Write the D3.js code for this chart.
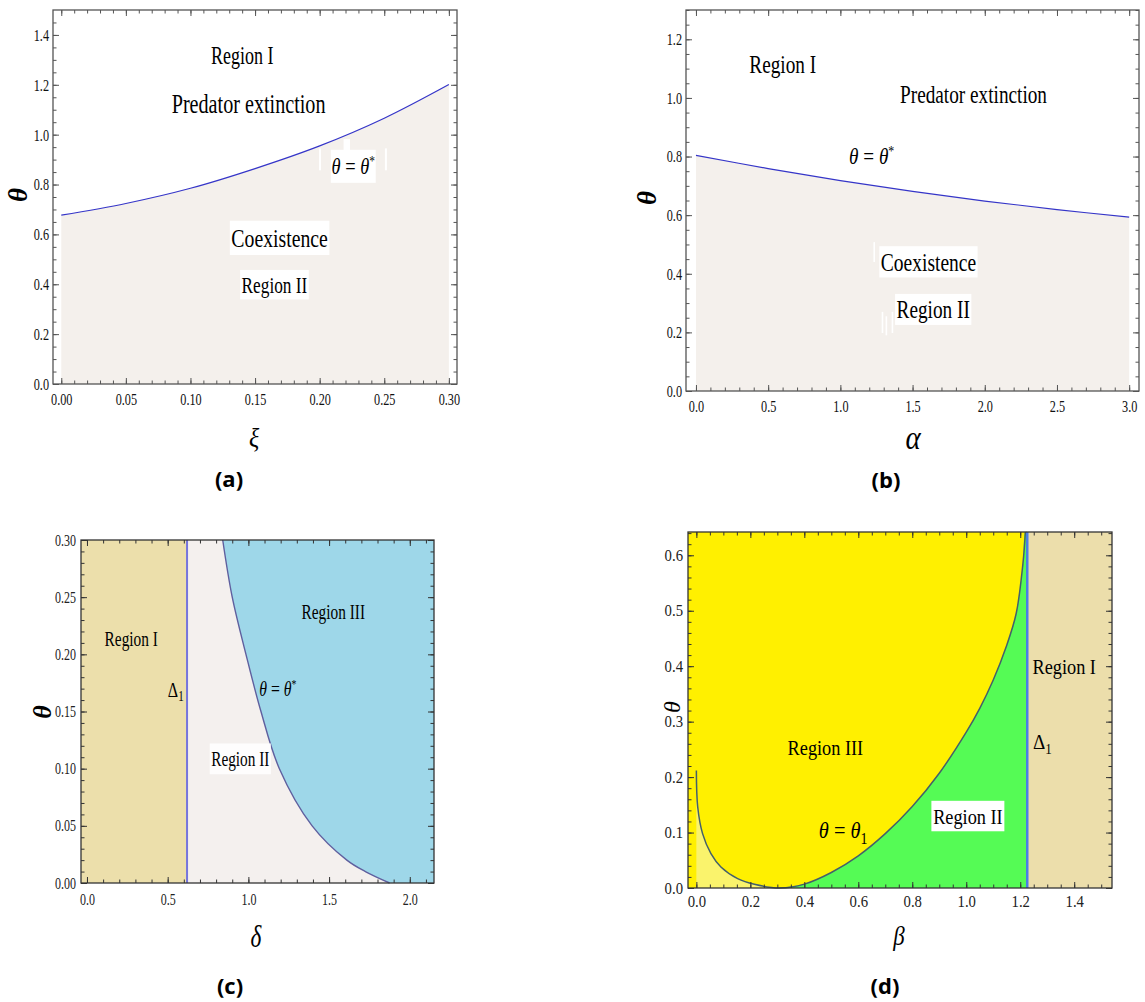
<!DOCTYPE html>
<html><head><meta charset="utf-8">
<script src="https://cdn.jsdelivr.net/npm/d3@7"></script>
<style>body{margin:0;background:#fff} svg{display:block}</style>
</head><body>
<svg id="chart" width="1145" height="1002"></svg>
<script>
// ---------------- DATA ----------------
// (a) theta* as a function of xi
const xiValues   = [0, 0.05, 0.10, 0.15, 0.20, 0.25, 0.30];
const thetaStarA = [0.677, 0.724, 0.785, 0.864, 0.955, 1.066, 1.201];
// (b) theta* as a function of alpha
const alphaValues = [0, 0.5, 1.0, 1.5, 2.0, 2.5, 3.0];
const thetaStarB  = [0.804, 0.759, 0.718, 0.681, 0.648, 0.619, 0.593];
// (c) delta on the theta = theta* curve, for given theta
const thetaC     = [0.30, 0.25, 0.20, 0.15, 0.10, 0.05, 0.02, 0.01, 0.0];
const deltaStarC = [0.841, 0.900, 0.985, 1.078, 1.192, 1.395, 1.610, 1.725, 1.875];
const delta1C = 0.62;
// (d) theta_1 as a function of beta
const betaD   = [0, 0.005, 0.023, 0.054, 0.091, 0.153, 0.215, 0.31, 0.40, 0.50, 0.60, 0.70, 0.80, 0.90, 1.00, 1.05, 1.10, 1.148, 1.185, 1.21, 1.219];
const theta1D = [0.212, 0.146, 0.098, 0.062, 0.038, 0.017, 0.0067, 0.0, 0.007, 0.028, 0.058, 0.098, 0.147, 0.207, 0.281, 0.324, 0.375, 0.435, 0.495, 0.585, 0.642];
const beta1D = 1.226;
const betaMinD = 0.31;
// tick labels
const ticksAx = [0, 0.05, 0.10, 0.15, 0.20, 0.25, 0.30];
const ticksAy = [0, 0.2, 0.4, 0.6, 0.8, 1.0, 1.2, 1.4];
const ticksBx = [0, 0.5, 1.0, 1.5, 2.0, 2.5, 3.0];
const ticksBy = [0, 0.2, 0.4, 0.6, 0.8, 1.0, 1.2];
const ticksCx = [0, 0.5, 1.0, 1.5, 2.0];
const ticksCy = [0, 0.05, 0.10, 0.15, 0.20, 0.25, 0.30];
const ticksDx = [0, 0.2, 0.4, 0.6, 0.8, 1.0, 1.2, 1.4];
const ticksDy = [0, 0.1, 0.2, 0.3, 0.4, 0.5, 0.6];

// ---------------- DRAWING ----------------
const svg = d3.select("#chart");
const SERIF = "'Liberation Serif','Times New Roman',serif";
const SANS = "'Open Sans','Noto Sans',sans-serif";
const smooth = d3.curveCatmullRom.alpha(0.5);

function minorRange(lo, hi, step) {
  const n = Math.round((hi - lo) / step);
  return d3.range(n + 1).map(i => +(lo + i * step).toFixed(6));
}

function panel(cfg) {
  const x = d3.scaleLinear().domain(cfg.xDomain).range([cfg.left, cfg.right]);
  const y = d3.scaleLinear().domain(cfg.yDomain).range([cfg.bottom, cfg.top]);
  const g = svg.append("g");
  const under = g.append("g");
  const marks = g.append("g");
  const axes = g.append("g");
  const labels = g.append("g");
  return {x, y, g, under, marks, axes, labels, cfg};
}

function styleAxis(sel, cfg) {
  sel.select(".domain").remove();
  sel.selectAll("line").attr("stroke", cfg.frame).attr("stroke-width", 1);
  sel.attr("font-family", SERIF).attr("font-size", cfg.tickSize).attr("fill", null);
  sel.selectAll("text").attr("fill", cfg.tickColor);
}

function drawAxes(p) {
  const {x, y, cfg, axes} = p;
  const fx = d3.format(cfg.xFmt), fy = d3.format(cfg.yFmt);
  const M = 6, m = 3.5;
  const gb = axes.append("g").attr("transform", `translate(0,${cfg.bottom})`)
    .call(d3.axisBottom(x).tickValues(cfg.xMajor).tickSizeInner(-M).tickSizeOuter(0).tickPadding(cfg.xPad).tickFormat(fx));
  styleAxis(gb, cfg);
  gb.selectAll("text").attr("transform", `scale(${cfg.tickK},1)`);
  const gbm = axes.append("g").attr("transform", `translate(0,${cfg.bottom})`)
    .call(d3.axisBottom(x).tickValues(cfg.xMinor).tickSizeInner(-m).tickSizeOuter(0).tickFormat(""));
  styleAxis(gbm, cfg);
  const gt = axes.append("g").attr("transform", `translate(0,${cfg.top})`)
    .call(d3.axisTop(x).tickValues(cfg.xMajor).tickSizeInner(-M).tickSizeOuter(0).tickFormat(""));
  styleAxis(gt, cfg);
  const gtm = axes.append("g").attr("transform", `translate(0,${cfg.top})`)
    .call(d3.axisTop(x).tickValues(cfg.xMinor).tickSizeInner(-m).tickSizeOuter(0).tickFormat(""));
  styleAxis(gtm, cfg);
  const gl = axes.append("g").attr("transform", `translate(${cfg.left},0)`)
    .call(d3.axisLeft(y).tickValues(cfg.yMajor).tickSizeInner(-M).tickSizeOuter(0).tickPadding(cfg.yPad).tickFormat(fy));
  styleAxis(gl, cfg);
  gl.selectAll("text").attr("x", -cfg.yPad / cfg.tickK).attr("transform", `scale(${cfg.tickK},1)`);
  const glm = axes.append("g").attr("transform", `translate(${cfg.left},0)`)
    .call(d3.axisLeft(y).tickValues(cfg.yMinor).tickSizeInner(-m).tickSizeOuter(0).tickFormat(""));
  styleAxis(glm, cfg);
  const gr = axes.append("g").attr("transform", `translate(${cfg.right},0)`)
    .call(d3.axisRight(y).tickValues(cfg.yMajor).tickSizeInner(-M).tickSizeOuter(0).tickFormat(""));
  styleAxis(gr, cfg);
  const grm = axes.append("g").attr("transform", `translate(${cfg.right},0)`)
    .call(d3.axisRight(y).tickValues(cfg.yMinor).tickSizeInner(-m).tickSizeOuter(0).tickFormat(""));
  styleAxis(grm, cfg);
  axes.append("rect").attr("x", cfg.left).attr("y", cfg.top)
    .attr("width", cfg.right - cfg.left).attr("height", cfg.bottom - cfg.top)
    .attr("fill", "none").attr("stroke", cfg.frame).attr("stroke-width", 1.3);
}

function addText(parent, X, Y, parts, size, k, opts = {}) {
  const g = parent.append("g").attr("transform", `translate(${X},${Y}) scale(${k},1)` + (opts.rotate ? ` rotate(${opts.rotate})` : ""));
  const t = g.append("text").attr("text-anchor", "middle")
    .attr("font-family", opts.family || SERIF).attr("font-size", size).attr("fill", "#000");
  if (opts.weight) t.attr("font-weight", opts.weight);
  if (typeof parts === "string") parts = [{t: parts}];
  parts.forEach(p => {
    const s = t.append("tspan").text(p.t);
    if (p.i) s.attr("font-style", "italic");
    if (p.sup) s.attr("font-size", size * 0.62).attr("dy", -size * 0.36);
    if (p.sub) s.attr("font-size", size * 0.68).attr("dy", size * 0.22);
  });
  if (opts.box) {
    const bb = t.node().getBBox();
    const b = opts.box;
    g.insert("rect", "text").attr("x", bb.x - b[0]).attr("y", bb.y - b[1])
      .attr("width", bb.width + 2 * b[0]).attr("height", bb.height + b[1] + b[2])
      .attr("fill", "#fff").attr("opacity", b[3] == null ? 1 : b[3]);
  }
  return g;
}

const thetaEqStar = [{t: "θ", i: true}, {t: " = "}, {t: "θ", i: true}, {t: "*", sup: true}];
const thetaEq1 = [{t: "θ", i: true}, {t: " = "}, {t: "θ", i: true}, {t: "1", sub: true}];
const delta1Label = [{t: "Δ"}, {t: "1", sub: true}];

// ===== Panel (a) =====
{
  const p = panel({
    left: 53, right: 457, top: 10, bottom: 384,
    xDomain: [-0.0064, 0.3063], yDomain: [0, 1.5],
    xMajor: ticksAx, yMajor: ticksAy,
    xMinor: minorRange(0, 0.30, 0.01), yMinor: minorRange(0, 1.45, 0.05),
    xFmt: ".2f", yFmt: ".1f", xPad: 9, yPad: 4, tickK: 0.72, tickSize: 17,
    frame: "#555", tickColor: "#111"
  });
  const {x, y} = p;
  const pts = d3.zip(xiValues, thetaStarA);
  p.under.append("path").datum(pts).attr("fill", "#f4f0ec")
    .attr("d", d3.area().x(d => x(d[0])).y0(y(0)).y1(d => y(d[1])).curve(smooth));
  [[0.1995, 0.857, 0.945], [0.2505, 0.857, 0.945]].forEach(a =>
    p.under.append("rect").attr("x", x(a[0])).attr("y", y(a[2])).attr("width", 2).attr("height", y(a[1]) - y(a[2])).attr("fill", "#fff"));
  p.under.append("rect").attr("x", x(0.2185)).attr("y", y(0.982)).attr("width", x(0.2235) - x(0.2185)).attr("height", y(0.93) - y(0.982)).attr("fill", "#fff");
  p.marks.append("path").datum(pts).attr("fill", "none").attr("stroke", "#3535c8").attr("stroke-width", 1.2)
    .attr("d", d3.line().x(d => x(d[0])).y(d => y(d[1])).curve(smooth));
  drawAxes(p);
  const L = p.labels, k = 0.72;
  addText(L, x(0.140), y(1.282), "Region I", 25, k);
  addText(L, x(0.145), y(1.086), "Predator extinction", 28, k);
  addText(L, x(0.169), y(0.548), "Coexistence", 26, 0.76, {box: [2, 3, 2]});
  addText(L, x(0.165), y(0.366), "Region II", 24, k, {box: [2, 1, 1]});
  addText(L, x(0.226), y(0.841), thetaEqStar, 23, 0.8, {box: [1, 3, 3]});
  addText(svg, 18, 195, [{t: "θ", i: true}], 27, 1, {rotate: -90, weight: "bold"}).select("text").attr("dominant-baseline", "central");
  addText(svg, 254, 447, [{t: "ξ", i: true}], 28, 0.85);
  addText(svg, 229, 487, "(a)", 22, 1, {family: SANS, weight: "bold"});
}

// ===== Panel (b) =====
{
  const p = panel({
    left: 686, right: 1139, top: 10, bottom: 391,
    xDomain: [-0.069, 3.068], yDomain: [0, 1.3],
    xMajor: ticksBx, yMajor: ticksBy,
    xMinor: minorRange(0, 3.0, 0.1), yMinor: minorRange(0, 1.3, 0.05),
    xFmt: ".1f", yFmt: ".1f", xPad: 9, yPad: 4, tickK: 0.72, tickSize: 17,
    frame: "#555", tickColor: "#111"
  });
  const {x, y} = p;
  const pts = d3.zip(alphaValues, thetaStarB);
  p.under.append("path").datum(pts).attr("fill", "#f4f0ec")
    .attr("d", d3.area().x(d => x(d[0])).y0(y(0)).y1(d => y(d[1])).curve(smooth));
  [[1.229, 0.44, 0.508], [1.286, 0.198, 0.27], [1.313, 0.19, 0.255], [1.355, 0.198, 0.27]].forEach(a =>
    p.under.append("rect").attr("x", x(a[0])).attr("y", y(a[2])).attr("width", 1.6).attr("height", y(a[1]) - y(a[2])).attr("fill", "#fff"));
  p.marks.append("path").datum(pts).attr("fill", "none").attr("stroke", "#3535c8").attr("stroke-width", 1.2)
    .attr("d", d3.line().x(d => x(d[0])).y(d => y(d[1])).curve(smooth));
  drawAxes(p);
  const L = p.labels, k = 0.77;
  addText(L, x(0.601), y(1.086), "Region I", 25, k);
  addText(L, x(1.922), y(0.984), "Predator extinction", 25, k);
  addText(L, x(1.217), y(0.774), thetaEqStar, 24, 0.8);
  addText(L, x(1.610), y(0.410), "Coexistence", 26, 0.75, {box: [2, 2, 1]});
  addText(L, x(1.643), y(0.248), "Region II", 25, k, {box: [2, 2, 1]});
  addText(svg, 647, 198, [{t: "θ", i: true}], 27, 1, {rotate: -90, weight: "bold"}).select("text").attr("dominant-baseline", "central");
  addText(svg, 913, 449, [{t: "α", i: true}], 34, 0.85);
  addText(svg, 886, 488, "(b)", 22, 1, {family: SANS, weight: "bold"});
}

// ===== Panel (c) =====
{
  const p = panel({
    left: 81, right: 434, top: 540, bottom: 883,
    xDomain: [-0.037, 2.15], yDomain: [0, 0.30],
    xMajor: ticksCx, yMajor: ticksCy,
    xMinor: minorRange(0, 2.1, 0.1), yMinor: minorRange(0, 0.30, 0.01),
    xFmt: ".1f", yFmt: ".2f", xPad: 11, yPad: 5, tickK: 0.75, tickSize: 16,
    frame: "#333", tickColor: "#222"
  });
  const {x, y, cfg} = p;
  const pts = d3.zip(thetaC, deltaStarC);
  p.under.append("rect").attr("x", cfg.left).attr("y", cfg.top).attr("width", cfg.right - cfg.left).attr("height", cfg.bottom - cfg.top).attr("fill", "#f4f0ee");
  p.under.append("rect").attr("x", cfg.left).attr("y", cfg.top).attr("width", x(delta1C) - cfg.left).attr("height", cfg.bottom - cfg.top).attr("fill", "#ecdfab");
  p.under.append("path").datum(pts).attr("fill", "#9ed7e9")
    .attr("d", d3.area().y(d => y(d[0])).x0(d => x(d[1])).x1(cfg.right).curve(smooth));
  p.marks.append("path").datum(pts).attr("fill", "none").attr("stroke", "#5f5f9e").attr("stroke-width", 1.4)
    .attr("d", d3.line().y(d => y(d[0])).x(d => x(d[1])).curve(smooth));
  p.marks.append("line").attr("x1", x(delta1C)).attr("x2", x(delta1C)).attr("y1", y(0)).attr("y2", y(0.30))
    .attr("stroke", "#7575dc").attr("stroke-width", 2);
  drawAxes(p);
  const L = p.labels, k = 0.73;
  addText(L, x(0.274), y(0.2073), "Region I", 21, k);
  addText(L, x(1.526), y(0.2306), "Region III", 21, k);
  addText(L, x(0.550), y(0.163), delta1Label, 22, k);
  addText(L, x(1.183), y(0.1636), thetaEqStar, 21, 0.75);
  addText(L, x(0.950), y(0.1026), "Region II", 21, k, {box: [2, 4, 4, 0.85]});
  addText(svg, 42, 712, [{t: "θ", i: true}], 26, 1, {rotate: -90, weight: "bold"}).select("text").attr("dominant-baseline", "central");
  addText(svg, 256, 947, [{t: "δ", i: true}], 31, 0.75);
  addText(svg, 230, 994, "(c)", 22, 1, {family: SANS, weight: "bold"});
}

// ===== Panel (d) =====
{
  const p = panel({
    left: 688, right: 1112, top: 532, bottom: 888,
    xDomain: [-0.031, 1.54], yDomain: [0, 0.642],
    xMajor: ticksDx, yMajor: ticksDy,
    xMinor: minorRange(0, 1.5, 0.05), yMinor: minorRange(0, 0.64, 0.02),
    xFmt: ".1f", yFmt: ".1f", xPad: 8, yPad: 5, tickK: 0.92, tickSize: 16,
    frame: "#333", tickColor: "#222"
  });
  const {x, y, cfg} = p;
  const pts = d3.zip(betaD, theta1D);
  const area = d3.area().x(d => x(d[0])).y0(y(0)).y1(d => y(d[1])).curve(smooth);
  p.under.append("rect").attr("x", cfg.left).attr("y", cfg.top).attr("width", cfg.right - cfg.left).attr("height", cfg.bottom - cfg.top).attr("fill", "#fff000");
  p.under.append("path").datum(pts.filter(d => d[0] <= betaMinD)).attr("fill", "#faf36c").attr("d", area);
  p.under.append("path").datum(pts.filter(d => d[0] >= betaMinD).concat([[beta1D, theta1D[theta1D.length - 1]]])).attr("fill", "#55fb55").attr("d", area);
  p.under.append("rect").attr("x", x(beta1D)).attr("y", cfg.top).attr("width", cfg.right - x(beta1D)).attr("height", cfg.bottom - cfg.top).attr("fill", "#ecdeab");
  p.marks.append("path").datum(pts).attr("fill", "none").attr("stroke", "#44606a").attr("stroke-width", 1.5)
    .attr("d", d3.line().x(d => x(d[0])).y(d => y(d[1])).curve(smooth));
  p.marks.append("line").attr("x1", x(beta1D)).attr("x2", x(beta1D)).attr("y1", y(0)).attr("y2", cfg.top)
    .attr("stroke", "#4a7de6").attr("stroke-width", 2.5);
  drawAxes(p);
  const L = p.labels, k = 0.87;
  addText(L, x(0.478), y(0.240), "Region III", 21, k);
  addText(L, x(0.544), y(0.0896), thetaEq1, 24, 0.85);
  addText(L, x(1.006), y(0.1154), "Region II", 21, k, {box: [2, 4, 3]});
  addText(L, x(1.363), y(0.386), "Region I", 21, k);
  addText(L, x(1.282), y(0.250), delta1Label, 22, k);
  addText(svg, 672, 707, [{t: "θ", i: true}], 24, 1, {rotate: -90}).select("text").attr("dominant-baseline", "central");
  addText(svg, 899, 945, [{t: "β", i: true}], 27, 0.85);
  addText(svg, 885, 994, "(d)", 22, 1, {family: SANS, weight: "bold"});
}
</script>
</body></html>
